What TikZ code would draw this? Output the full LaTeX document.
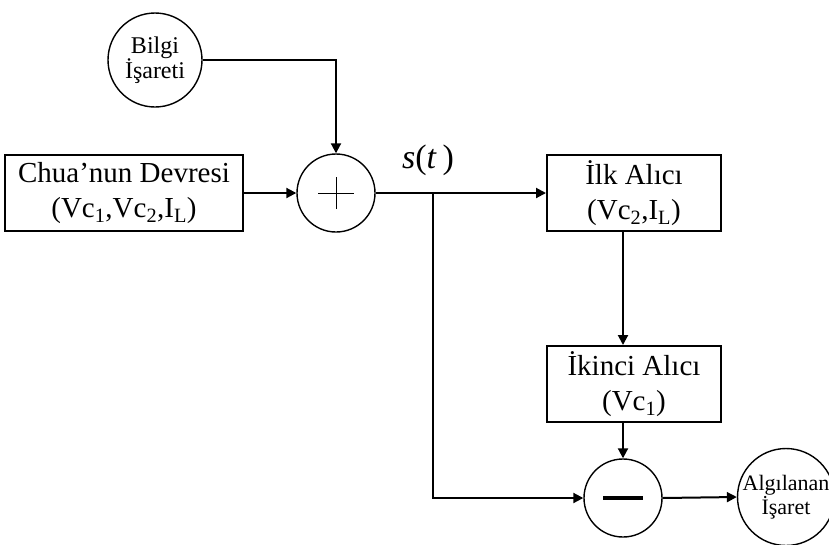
\documentclass[tikz,border=0pt]{standalone}
\usepackage{fontspec}
\setmainfont{Liberation Serif}
\usetikzlibrary{arrows.meta}
\begin{document}
\begin{tikzpicture}[x=1pt,y=-1pt,line width=2pt,
  >={Triangle[length=10pt,width=10pt]},
  blk/.style={draw,line width=2pt,minimum width=174pt,minimum height=76pt,
    align=center,inner sep=0pt,font=\fontsize{29}{35}\selectfont},
  circ/.style={draw,circle,line width=1.4pt,inner sep=0pt,align=center,
    font=\fontsize{22}{24}\selectfont},
  op/.style={draw,circle,line width=1.4pt,inner sep=0pt,minimum size=78pt}]
\useasboundingbox (0,0) rectangle (829,544);

% sources and blocks
\node[circ,minimum size=94pt,font=\fontsize{24}{25}\selectfont] (bilgi) at (155,60) {Bilgi\\İşareti};
\node[blk,minimum width=238pt] (chua) at (124,193)
  {Chua’nun Devresi\\(Vc\textsubscript{1},Vc\textsubscript{2},I\textsubscript{L})};
\node[op] (plus) at (336,193) {};
\node[blk] (ilk) at (634,193) {İlk Alıcı\\(Vc\textsubscript{2},I\textsubscript{L})};
\node[blk] (ikinci) at (634,384) {İkinci Alıcı\\(Vc\textsubscript{1})};
\node[op] (minus) at (623,498) {};
\node[circ,minimum size=90pt] (alg) at (786,497) {Algılanan\\İşaret};
\node[font=\fontsize{34}{38}\selectfont] (st) at (428,160)
  {\itshape s\upshape(\itshape t\/\,\upshape)};

% operator symbols
\draw[line width=1pt] ([xshift=-18pt]plus.center) -- ([xshift=18pt]plus.center);
\draw[line width=1pt] ([yshift=-16pt]plus.center) -- ([yshift=16pt]plus.center);
\draw[line width=4pt] ([xshift=-20pt]minus.center) -- ([xshift=20pt]minus.center);

% signal paths
\coordinate (br) at (433,193);
\draw[->] (bilgi.east) -| (plus.north);
\draw[->] (chua) -- (plus);
\draw[->] (plus) -- (ilk);
\draw[->] (br) |- (minus.west);
\draw[->] (ilk.south -| minus.north) -- (ikinci.north -| minus.north);
\draw[->] (ikinci.south -| minus.north) -- (minus.north);
\draw[->] (minus.east) -- (alg.west);
\end{tikzpicture}
\end{document}
